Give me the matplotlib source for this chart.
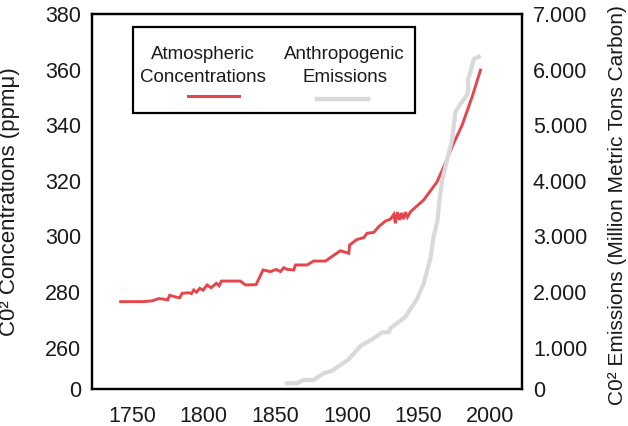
import numpy as np
import matplotlib
matplotlib.use("Agg")
import matplotlib.pyplot as plt
from matplotlib.patches import Rectangle
from matplotlib.lines import Line2D

plt.rcParams['font.family'] = ['Liberation Sans', 'DejaVu Sans']

# atmospheric CO2 (ppm)
conc_years = [1742, 1758, 1764, 1768.6, 1773.2, 1774.8, 1776.2, 1780.2, 1783.2, 1784.9,
              1789.5, 1791.4, 1793, 1794.9, 1797.2, 1799.5, 1802.3, 1805.1, 1808.8, 1810.7,
              1812.3, 1825.6, 1829.1, 1836.5, 1841.4, 1846.5, 1850.5, 1853.5, 1855.8, 1858.2,
              1862.8, 1864, 1872.1, 1876.7, 1884.9, 1895.3, 1901.2, 1901.8, 1907, 1911.6,
              1914, 1918.6, 1922.1, 1926.8, 1930.3, 1932.6, 1933.7, 1935.1, 1936.5, 1937.9,
              1939.3, 1940.7, 1942.1, 1944.2, 1953.5, 1962.8, 1968.6, 1974.4, 1980.3, 1987.3,
              1993.1]
conc_ppm = [276.5, 276.5, 276.8, 277.6, 277.3, 277.1, 278.8, 278.2, 277.9, 279.5,
            279.7, 279.4, 280.7, 279.9, 281.3, 280.6, 282.5, 281.5, 283.1, 282.2,
            283.9, 283.9, 282.5, 282.6, 287.9, 287.3, 288.1, 287.3, 288.7, 288.1,
            287.9, 289.7, 289.7, 291.1, 291.1, 294.8, 293.9, 296.9, 298.9, 299.5,
            301.1, 301.4, 303.5, 305.5, 306.2, 307.9, 304.7, 308.7, 305.9, 308.4,
            306.2, 308.7, 306.9, 308.8, 313.1, 319.6, 326.3, 333.5, 340.0, 350.2,
            359.8]

# anthropogenic emissions (million metric tons carbon)
emis_years = [1858, 1865, 1869.6, 1876.7, 1883.7, 1889.5, 1901.2, 1909.3, 1917.5, 1924.5,
              1929.1, 1930.3, 1940.7, 1948.9, 1953.5, 1958.2, 1960.5, 1963.1, 1964.5, 1966.4,
              1969.8, 1973.3, 1975.6, 1979.1, 1983.8, 1984.7, 1984.3, 1986.1, 1988.4, 1991.9]
emis_mt = [137, 137, 217, 217, 378, 441, 716, 1027, 1147, 1273,
           1273, 1345, 1554, 1872, 2155, 2610, 3005, 3275, 3653, 4014,
           4374, 4732, 5236, 5380, 5543, 5669, 5813, 5957, 6188, 6230]

left_ticks = [0, 260, 280, 300, 320, 340, 360, 380]
right_ticks = [0, 1000, 2000, 3000, 4000, 5000, 6000, 7000]
right_labels = ["0", "1.000", "2.000", "3.000", "4.000", "5.000", "6.000", "7.000"]
x_ticks = [1750, 1800, 1850, 1900, 1950, 2000]

red = "#e5464b"
grey = "#d9d9d9"
low = 0.746  # squeezed bottom band of both axes

def fwd_ppm(v):
    v = np.asarray(v, dtype=float)
    return np.where(v <= 260, v / 260 * low, low + (v - 260) / 20)

def inv_ppm(u):
    u = np.asarray(u, dtype=float)
    return np.where(u <= low, u / low * 260, 260 + (u - low) * 20)

def fwd_mt(v):
    v = np.asarray(v, dtype=float)
    return np.where(v <= 1000, v / 1000 * low, low + (v - 1000) / 1000)

def inv_mt(u):
    u = np.asarray(u, dtype=float)
    return np.where(u <= low, u / low * 1000, 1000 + (u - low) * 1000)

fig = plt.figure(figsize=(6.28, 4.26), dpi=100)
ax = fig.add_axes([0.1465, 0.0869, 0.6845, 0.8803])
ax2 = ax.twinx()

ax.plot(conc_years, conc_ppm, color=red, linewidth=2.1, solid_joinstyle='miter')
ax2.plot(emis_years, emis_mt, color=grey, linewidth=3.0)

ax.set_yscale('function', functions=(fwd_ppm, inv_ppm))
ax2.set_yscale('function', functions=(fwd_mt, inv_mt))
ax.set_ylim(0, 380)
ax2.set_ylim(0, 7000)
ax.set_xlim(1722, 2022)

ax.set_yticks(left_ticks)
ax.set_yticklabels([str(t) for t in left_ticks])
ax.yaxis.set_minor_locator(matplotlib.ticker.NullLocator())
ax2.set_yticks(right_ticks)
ax2.set_yticklabels(right_labels)
ax2.yaxis.set_minor_locator(matplotlib.ticker.NullLocator())
ax.set_xticks(x_ticks)

ax.tick_params(axis='both', length=0, labelsize=15.5, colors='#1a1a1a')
ax.tick_params(axis='y', pad=8)
ax.tick_params(axis='x', pad=12)
ax2.tick_params(axis='y', length=0, labelsize=15.5, pad=8, colors='#1a1a1a')

for a in (ax, ax2):
    for s in a.spines.values():
        s.set_linewidth(1.6)
        s.set_color('black')

ax.set_ylabel("C0² Concentrations (ppmμ)", fontsize=16, color='#1a1a1a')
ax.yaxis.set_label_coords(-0.167, 0.5)
ax2.set_ylabel("C0² Emissions (Million Metric Tons Carbon)", fontsize=15, color='#1a1a1a')
ax2.yaxis.set_label_coords(1.2, 0.49)

# hand-drawn legend box
tr = ax2.transAxes
ax2.add_patch(Rectangle((0.0953, 0.736), 0.656, 0.229, transform=tr,
                        facecolor='white', edgecolor='black', linewidth=1.6, zorder=5))
ax2.text(0.258, 0.862, "Atmospheric\nConcentrations", transform=tr, ha='center',
         va='center', fontsize=13.5, linespacing=1.45, color='#1a1a1a', zorder=6)
ax2.text(0.588, 0.862, "Anthropogenic\nEmissions", transform=tr, ha='center',
         va='center', fontsize=13.5, linespacing=1.45, color='#1a1a1a', zorder=6)
ax2.add_line(Line2D([0.223, 0.342], [0.7805, 0.7805], transform=tr, color=red,
                    linewidth=2.2, zorder=6))
ax2.add_line(Line2D([0.523, 0.642], [0.774, 0.774], transform=tr, color=grey,
                    linewidth=3.2, zorder=6))

fig.savefig("out.png", dpi=100)
